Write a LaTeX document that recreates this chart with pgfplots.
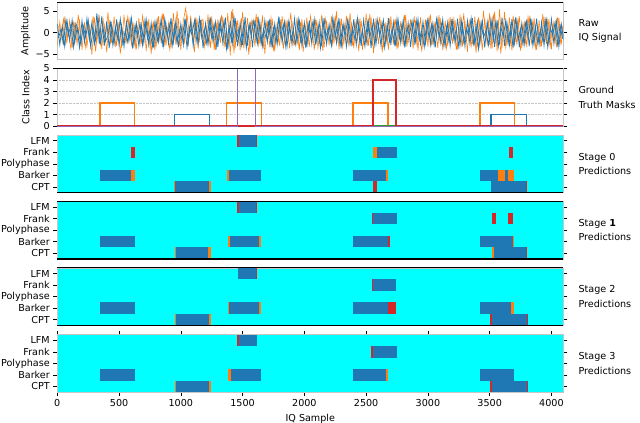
\documentclass[border=0pt]{standalone}
\usepackage{pgfplots}
\usepackage{pgfplotstable}
\pgfplotsset{compat=1.18}
\usepackage{fontspec}
\setmainfont{DejaVu Sans}
\definecolor{tabblue}{HTML}{1F77B4}
\definecolor{taborange}{HTML}{FF7F0E}
\definecolor{tabred}{HTML}{D62728}
\definecolor{tabpurple}{HTML}{9467BD}
\definecolor{tabgreen}{HTML}{2CA02C}
\definecolor{cyanbg}{HTML}{00FFFF}
\newcommand{\cell}[5]{\addplot[fill=#1,draw=none,forget plot] coordinates {(#2,#4) (#3,#4) (#3,#5) (#2,#5)};}
\newcommand{\lbl}{\fontsize{9.6}{11}\selectfont}

% I channel, samples 0,20,40,...
\pgfplotstableread[row sep=\\]{y\\
2.1\\-2.8\\1.5\\-3.2\\2.6\\-1.9\\3.0\\-2.4\\1.2\\-3.5\\2.8\\-2.2\\3.3\\-1.7\\2.4\\-3.0\\4.5\\-2.6\\3.8\\-3.1\\
2.7\\-3.6\\2.0\\-2.5\\3.1\\-2.9\\1.8\\-3.3\\2.5\\-2.0\\3.4\\-2.7\\2.2\\-3.1\\1.9\\-2.4\\3.0\\-2.8\\2.3\\-3.5\\
2.6\\-2.1\\3.2\\-3.0\\2.0\\-2.6\\3.5\\-2.3\\2.8\\-3.4\\2.1\\-2.9\\3.3\\-2.2\\2.7\\-3.1\\2.4\\-2.5\\3.0\\-3.6\\
2.2\\-2.8\\3.1\\-2.0\\2.5\\-3.3\\2.9\\-2.4\\3.6\\-3.9\\2.8\\-2.6\\3.4\\-3.2\\2.3\\-2.9\\3.7\\-3.0\\2.6\\-3.4\\
3.0\\-2.5\\2.4\\-3.1\\2.9\\-2.2\\3.2\\-3.5\\2.1\\-2.7\\3.0\\-2.3\\2.6\\-3.2\\2.2\\-2.8\\3.3\\-2.1\\2.7\\-3.0\\
2.3\\-3.4\\2.9\\-2.6\\3.1\\-2.0\\2.5\\-3.2\\3.4\\-2.7\\2.0\\-3.0\\2.8\\-2.4\\3.5\\-2.9\\2.2\\-3.3\\2.6\\-2.5\\
3.2\\-2.8\\2.4\\-3.1\\3.0\\-2.3\\2.7\\-3.6\\3.3\\-2.6\\2.1\\-3.0\\2.9\\-2.2\\3.4\\-2.9\\2.5\\-3.2\\2.8\\-2.4\\
3.0\\-2.7\\2.3\\-3.3\\2.8\\-2.1\\3.2\\-3.0\\2.6\\-2.5\\3.5\\-2.8\\2.2\\-3.4\\2.9\\-2.3\\3.1\\-2.9\\2.4\\-3.1\\
2.7\\-2.4\\3.3\\-2.9\\2.1\\-3.2\\2.8\\-2.6\\3.4\\-3.0\\2.5\\-2.7\\3.1\\-3.5\\2.6\\-2.2\\3.0\\-3.3\\2.9\\-2.8\\
3.6\\-3.1\\2.4\\-2.9\\3.2\\-2.5\\2.8\\-3.4\\2.2\\-2.7\\3.1\\-3.2\\2.6\\-2.3\\3.3\\-2.8\\2.5\\-3.0\\2.9\\-2.4\\3.2\\-2.6\\2.7\\-3.3\\2.0\\-1.8\\
}\rawI
% I channel, samples 10,30,50,...
\pgfplotstableread[row sep=\\]{y\\
-1.2\\0.8\\-2.5\\3.1\\-0.6\\1.9\\-3.4\\2.2\\0.4\\-2.7\\1.6\\-1.1\\2.9\\-3.3\\0.9\\-1.8\\3.6\\-2.3\\1.1\\-2.0\\
-0.7\\2.4\\-3.0\\1.3\\-1.5\\3.2\\-2.6\\0.5\\-2.2\\2.8\\-3.7\\1.7\\-0.9\\2.1\\-2.9\\3.0\\-1.4\\0.6\\-3.2\\2.5\\
-1.9\\1.0\\-2.8\\3.3\\-0.8\\2.0\\-3.1\\1.5\\-2.4\\0.7\\-1.6\\2.7\\-3.5\\1.2\\-0.5\\2.9\\-2.1\\3.4\\-1.3\\0.9\\
-2.6\\3.0\\-1.0\\1.8\\-3.3\\2.3\\-0.6\\2.6\\-3.8\\1.4\\-2.0\\3.7\\-1.7\\0.8\\-2.9\\2.2\\-3.6\\1.6\\-0.4\\2.8\\
-1.8\\3.1\\-2.7\\0.9\\-1.2\\2.4\\-3.0\\1.1\\-2.3\\3.3\\-0.7\\1.9\\-3.4\\2.6\\-1.5\\0.5\\-2.8\\3.2\\-2.0\\1.3\\
-3.1\\2.1\\-0.9\\2.7\\-2.5\\1.0\\-3.6\\3.0\\-1.4\\0.8\\-2.2\\3.5\\-1.1\\2.3\\-3.0\\1.7\\-0.6\\2.9\\-2.7\\1.2\\
-1.6\\3.4\\-2.4\\0.7\\-3.2\\2.5\\-1.0\\1.8\\-2.9\\3.1\\-0.8\\2.2\\-3.5\\1.5\\-2.1\\0.9\\-2.6\\3.3\\-1.3\\2.0\\
-3.0\\1.1\\-0.5\\2.6\\-2.3\\3.0\\-1.7\\0.6\\-3.4\\2.4\\-1.2\\1.9\\-2.8\\3.2\\-0.9\\2.1\\-3.1\\1.4\\-2.0\\2.7\\
-1.5\\0.8\\-3.3\\2.9\\-2.2\\1.0\\-0.7\\3.4\\-2.6\\1.6\\-3.8\\2.3\\-1.1\\0.5\\-2.9\\3.1\\-1.8\\2.6\\-3.2\\1.3\\
-0.8\\2.8\\-2.4\\1.7\\-3.5\\3.6\\-1.6\\0.9\\-2.7\\2.2\\-1.0\\3.0\\-3.1\\1.5\\-2.5\\0.7\\-1.9\\2.9\\-3.4\\1.2\\-0.6\\2.4\\-2.8\\1.8\\-1.4\\
}\rawIb

% Q channel, samples 0,20,40,...
\pgfplotstableread[row sep=\\]{y\\
-3.0\\2.5\\-2.2\\3.4\\-1.8\\2.9\\-3.6\\2.0\\-2.7\\3.1\\-4.0\\2.4\\-3.3\\1.9\\-5.2\\3.6\\-2.5\\4.1\\-3.8\\2.2\\
-4.6\\3.0\\-2.4\\3.8\\-3.1\\2.6\\-3.5\\4.2\\-2.0\\3.3\\-2.8\\2.1\\-3.9\\3.5\\-2.6\\2.9\\-4.3\\3.2\\-5.0\\2.7\\
-3.4\\3.9\\-2.5\\4.4\\-3.0\\2.3\\-3.7\\4.6\\-2.9\\3.4\\-4.1\\2.8\\5.8\\-3.2\\4.0\\-2.2\\3.6\\-3.8\\2.5\\3.1\\
-2.7\\4.3\\-3.5\\2.6\\-4.0\\3.2\\-2.4\\3.8\\-3.3\\4.6\\-5.3\\5.5\\-3.6\\3.0\\-4.2\\4.9\\-2.8\\3.4\\-3.9\\2.9\\
-3.2\\3.7\\-2.6\\4.1\\-5.0\\2.8\\-3.4\\3.3\\-4.4\\2.5\\-3.1\\3.9\\-2.3\\3.0\\-3.7\\2.7\\-2.9\\3.5\\-4.0\\3.2\\
-2.8\\3.6\\-3.3\\2.4\\-4.1\\3.0\\-2.6\\4.2\\-3.5\\2.9\\-3.0\\3.8\\-2.5\\5.0\\-3.9\\3.3\\-2.7\\4.0\\-3.2\\2.6\\
-3.6\\3.1\\-4.3\\2.8\\-2.9\\4.5\\-3.1\\3.7\\-4.8\\3.4\\-2.6\\3.0\\-3.4\\2.5\\-4.0\\3.9\\-2.8\\3.3\\-3.5\\2.7\\
-3.0\\4.1\\-2.5\\3.2\\-3.8\\2.9\\-4.2\\3.6\\-2.7\\3.1\\-3.3\\4.3\\-2.9\\2.6\\-3.6\\3.4\\-4.0\\2.8\\-3.1\\3.7\\
-2.6\\3.0\\-3.9\\4.2\\-3.2\\2.7\\-4.5\\3.3\\-2.8\\3.8\\-3.4\\2.9\\-4.1\\3.5\\-3.0\\4.6\\-3.7\\5.0\\-4.4\\5.5\\
-3.5\\4.8\\-3.0\\3.6\\-4.2\\3.1\\-2.9\\3.9\\-3.6\\2.7\\-3.3\\4.0\\-2.8\\3.4\\-4.1\\3.0\\-3.2\\3.7\\-2.6\\3.3\\-3.9\\2.9\\-3.4\\3.6\\-2.7\\3.1\\
}\rawQ
% Q channel, samples 10,30,50,...
\pgfplotstableread[row sep=\\]{y\\
1.6\\-0.9\\3.2\\-2.6\\0.7\\-3.8\\2.4\\-1.3\\4.2\\-2.1\\1.0\\-3.5\\2.8\\-0.6\\3.9\\-4.4\\1.5\\-2.7\\3.3\\-1.8\\
4.8\\-2.4\\1.2\\-3.0\\2.6\\-4.9\\0.8\\-2.2\\3.7\\-1.5\\2.1\\-3.6\\1.4\\-2.9\\4.0\\-0.7\\2.5\\-3.3\\1.8\\-4.1\\
3.1\\-1.6\\4.5\\-2.8\\0.9\\-3.9\\2.7\\-1.2\\5.2\\-3.0\\1.6\\-2.3\\4.3\\-0.8\\2.2\\-4.6\\3.4\\-1.9\\2.9\\-3.4\\
1.3\\-2.6\\3.8\\-4.0\\2.0\\-1.4\\4.1\\-3.2\\0.6\\-2.5\\5.0\\-4.8\\2.3\\-1.7\\3.5\\-3.7\\1.9\\-5.1\\2.8\\-1.1\\
4.4\\-2.9\\1.7\\-3.3\\2.5\\-0.9\\3.6\\-4.2\\1.1\\-2.0\\3.2\\-3.8\\2.4\\-1.6\\4.7\\-2.7\\0.8\\-3.1\\2.6\\-4.5\\
1.5\\-2.3\\3.9\\-1.0\\2.9\\-3.6\\1.2\\-4.3\\3.3\\-0.7\\2.0\\-2.8\\4.0\\-1.8\\2.7\\-3.4\\1.6\\-2.2\\4.6\\-3.0\\
2.3\\-1.5\\3.4\\-4.0\\1.0\\-2.7\\4.4\\-3.1\\2.1\\-1.2\\3.7\\-4.6\\1.8\\-2.4\\3.0\\-0.8\\2.6\\-3.9\\1.4\\-2.1\\
4.2\\-3.3\\1.9\\-0.9\\3.5\\-2.6\\2.4\\-4.4\\1.3\\-1.7\\3.8\\-3.0\\2.2\\-1.1\\4.1\\-2.5\\0.7\\-3.7\\2.9\\-1.4\\
3.3\\-4.1\\1.6\\-2.8\\4.5\\-1.9\\2.0\\-3.2\\1.1\\-4.7\\3.6\\-2.3\\5.1\\-1.5\\2.7\\-3.8\\4.3\\-2.0\\3.1\\-4.9\\
2.2\\-3.5\\1.4\\-2.6\\4.0\\-1.8\\3.4\\-4.2\\1.9\\-2.4\\3.7\\-0.9\\2.8\\-3.6\\1.2\\-2.9\\4.4\\-1.6\\3.0\\-3.3\\1.7\\-2.2\\3.6\\-2.7\\1.5\\
}\rawQb

\pgfplotsset{
  panel/.style={
    width=506pt, height=57.6pt, scale only axis,
    xmin=0, xmax=4096,
    axis line style={gray!45, line width=0.6pt},
    tick align=outside, major tick length=4pt,
    tick style={black, line width=0.6pt},
    xtick=\empty,
    tick label style={font=\lbl},
    /pgf/number format/assume math mode=true,
    /pgf/number format/set thousands separator={},
    clip mode=individual,
  },
  pred/.style={panel, ymin=0, ymax=5,
    ytick={0.5,1.5,2.5,3.5,4.5},
    yticklabels={CPT,Barker,Polyphase,Frank,LFM},
    axis background/.style={fill=cyanbg}},
}
\tikzset{
  rlabel/.style={anchor=west, align=left, font=\fontsize{9.6}{14.5}\selectfont, xshift=11.7pt},
  llabel/.style={rotate=90, font=\lbl, yshift=31.5pt},
}

\begin{document}
\begin{tikzpicture}
\useasboundingbox (-57.3pt,-423pt) rectangle (582.7pt,0pt);

% Raw IQ
\begin{axis}[panel, at={(0pt,-2pt)}, anchor=north west,
  ymin=-6.3, ymax=7.2, ytick={-5,0,5}, yticklabels={−5,0,5}]
\addplot[taborange, line width=0.55pt] table[x expr=\coordindex*20, y=y]{\rawQ};
\addplot[taborange, line width=0.55pt] table[x expr=\coordindex*20+10, y=y]{\rawQb};
\addplot[tabblue, line width=0.75pt] table[x expr=\coordindex*20, y=y]{\rawI};
\addplot[tabblue, line width=0.75pt] table[x expr=\coordindex*20+10, y=y]{\rawIb};
\draw[black, line width=0.9pt] (rel axis cs:0,1) -- (rel axis cs:1,1);
\node[llabel] at (rel axis cs:0,0.5) {Amplitude};
\node[rlabel] at (rel axis cs:1,0.5) {Raw\\IQ Signal};
\end{axis}

% Ground truth
\begin{axis}[panel, at={(0pt,-68.5pt)}, anchor=north west,
  ymin=0, ymax=5, ytick={0,...,5}, ymajorgrids,
  grid style={densely dotted, gray!45, line width=0.5pt}]
\addplot[tabblue, line width=1.6pt] coordinates {(0,0) (948,0) (948,1) (1232,1) (1232,0) (3509,0) (3509,1) (3797,1) (3797,0) (4096,0)};
\addplot[taborange, line width=1.6pt] coordinates {(0,0) (346,0) (346,2) (625,2) (625,0) (1371,0) (1371,2) (1652,2) (1652,0) (2394,0) (2394,2) (2676,2) (2676,0) (3422,0) (3422,2) (3700,2) (3700,0) (4096,0)};
\addplot[tabgreen, line width=1.6pt] coordinates {(0,0) (4096,0)};
\addplot[tabred, line width=1.6pt] coordinates {(0,0) (2556,0) (2556,4) (2742,4) (2742,0) (4096,0)};
\addplot[tabpurple, line width=1.1pt] coordinates {(0,0) (1460,0) (1460,5) (1605,5) (1605,0) (4096,0)};
\draw[black, line width=0.9pt] (rel axis cs:0,1) -- (rel axis cs:1,1);
\node[llabel] at (rel axis cs:0,0.5) {Class Index};
\node[rlabel] at (rel axis cs:1,0.5) {Ground\\Truth Masks};
\end{axis}

% Stage 0
\begin{axis}[pred, at={(0pt,-135pt)}, anchor=north west]
\cell{tabred}{1458}{1470}{4}{5}
\cell{tabblue}{1470}{1607}{4}{5}
\cell{tabred}{1607}{1615}{4}{5}
\cell{tabred}{597}{627}{3}{4}
\cell{taborange}{2559}{2591}{3}{4}
\cell{tabblue}{2591}{2748}{3}{4}
\cell{tabred}{3658}{3692}{3}{4}
\cell{tabblue}{346}{597}{1}{2}
\cell{taborange}{597}{626}{1}{2}
\cell{taborange}{1375}{1387}{1}{2}
\cell{tabblue}{1387}{1650}{1}{2}
\cell{tabblue}{2397}{2661}{1}{2}
\cell{taborange}{2661}{2677}{1}{2}
\cell{tabblue}{3423}{3571}{1}{2}
\cell{taborange}{3571}{3626}{1}{2}
\cell{tabblue}{3626}{3647}{1}{2}
\cell{taborange}{3647}{3696}{1}{2}
\cell{taborange}{945}{955}{0}{1}
\cell{tabblue}{955}{1232}{0}{1}
\cell{taborange}{1232}{1242}{0}{1}
\cell{tabred}{2559}{2591}{0}{1}
\cell{tabblue}{3512}{3792}{0}{1}
\cell{tabred}{3792}{3803}{0}{1}
\draw[black, line width=1.1pt] (rel axis cs:0,0) -- (rel axis cs:1,0);
\node[rlabel] at (rel axis cs:1,0.5) {Stage 0\\Predictions};
\end{axis}

% Stage 1
\begin{axis}[pred, at={(0pt,-201.4pt)}, anchor=north west]
\cell{tabred}{1458}{1470}{4}{5}
\cell{tabblue}{1470}{1608}{4}{5}
\cell{tabred}{1608}{1614}{4}{5}
\cell{tabred}{2551}{2559}{3}{4}
\cell{tabblue}{2559}{2748}{3}{4}
\cell{tabred}{3520}{3549}{3}{4}
\cell{tabred}{3651}{3687}{3}{4}
\cell{tabblue}{346}{626}{1}{2}
\cell{taborange}{1379}{1398}{1}{2}
\cell{tabblue}{1398}{1636}{1}{2}
\cell{taborange}{1636}{1647}{1}{2}
\cell{tabblue}{2397}{2678}{1}{2}
\cell{tabred}{2678}{2694}{1}{2}
\cell{tabblue}{3423}{3687}{1}{2}
\cell{taborange}{3687}{3698}{1}{2}
\cell{taborange}{953}{961}{0}{1}
\cell{tabblue}{961}{1222}{0}{1}
\cell{taborange}{1222}{1242}{0}{1}
\cell{taborange}{3515}{3531}{0}{1}
\cell{tabblue}{3531}{3795}{0}{1}
\cell{tabred}{3795}{3805}{0}{1}
\draw[black, line width=0.8pt] (rel axis cs:0,1) -- (rel axis cs:1,1);
\draw[black, line width=1.1pt] (rel axis cs:0,0) -- (rel axis cs:1,0);
\node[rlabel] at (rel axis cs:1,0.5) {Stage \textbf{1}\\Predictions};
\end{axis}

% Stage 2
\begin{axis}[pred, at={(0pt,-267.8pt)}, anchor=north west]
\cell{tabblue}{1460}{1609}{4}{5}
\cell{tabred}{1609}{1618}{4}{5}
\cell{tabred}{2551}{2559}{3}{4}
\cell{tabblue}{2559}{2745}{3}{4}
\cell{tabblue}{346}{626}{1}{2}
\cell{taborange}{1379}{1387}{1}{2}
\cell{tabblue}{1387}{1631}{1}{2}
\cell{taborange}{1631}{1647}{1}{2}
\cell{tabblue}{2397}{2678}{1}{2}
\cell{tabred}{2678}{2741}{1}{2}
\cell{tabblue}{3423}{3673}{1}{2}
\cell{taborange}{3673}{3698}{1}{2}
\cell{taborange}{953}{961}{0}{1}
\cell{tabblue}{961}{1231}{0}{1}
\cell{taborange}{1231}{1242}{0}{1}
\cell{tabred}{3504}{3515}{0}{1}
\cell{tabblue}{3515}{3800}{0}{1}
\cell{tabred}{3800}{3808}{0}{1}
\draw[black, line width=0.8pt] (rel axis cs:0,1) -- (rel axis cs:1,1);
\draw[black, line width=1.1pt] (rel axis cs:0,0) -- (rel axis cs:1,0);
\node[rlabel] at (rel axis cs:1,0.5) {Stage 2\\Predictions};
\end{axis}

% Stage 3
\begin{axis}[pred, at={(0pt,-334.6pt)}, anchor=north west,
  xtick={0,500,...,4000}, xlabel={IQ Sample},
  xlabel style={font=\lbl}]
\cell{tabred}{1458}{1474}{4}{5}
\cell{tabblue}{1474}{1614}{4}{5}
\cell{tabred}{2543}{2559}{3}{4}
\cell{tabblue}{2559}{2748}{3}{4}
\cell{tabblue}{346}{626}{1}{2}
\cell{taborange}{1379}{1406}{1}{2}
\cell{tabblue}{1406}{1647}{1}{2}
\cell{tabblue}{2397}{2661}{1}{2}
\cell{taborange}{2661}{2677}{1}{2}
\cell{tabblue}{3423}{3698}{1}{2}
\cell{taborange}{953}{961}{0}{1}
\cell{tabblue}{961}{1231}{0}{1}
\cell{taborange}{1231}{1242}{0}{1}
\cell{tabred}{3504}{3515}{0}{1}
\cell{tabblue}{3515}{3800}{0}{1}
\cell{tabred}{3800}{3808}{0}{1}
\node[rlabel] at (rel axis cs:1,0.5) {Stage 3\\Predictions};
\end{axis}
\end{tikzpicture}
\end{document}
